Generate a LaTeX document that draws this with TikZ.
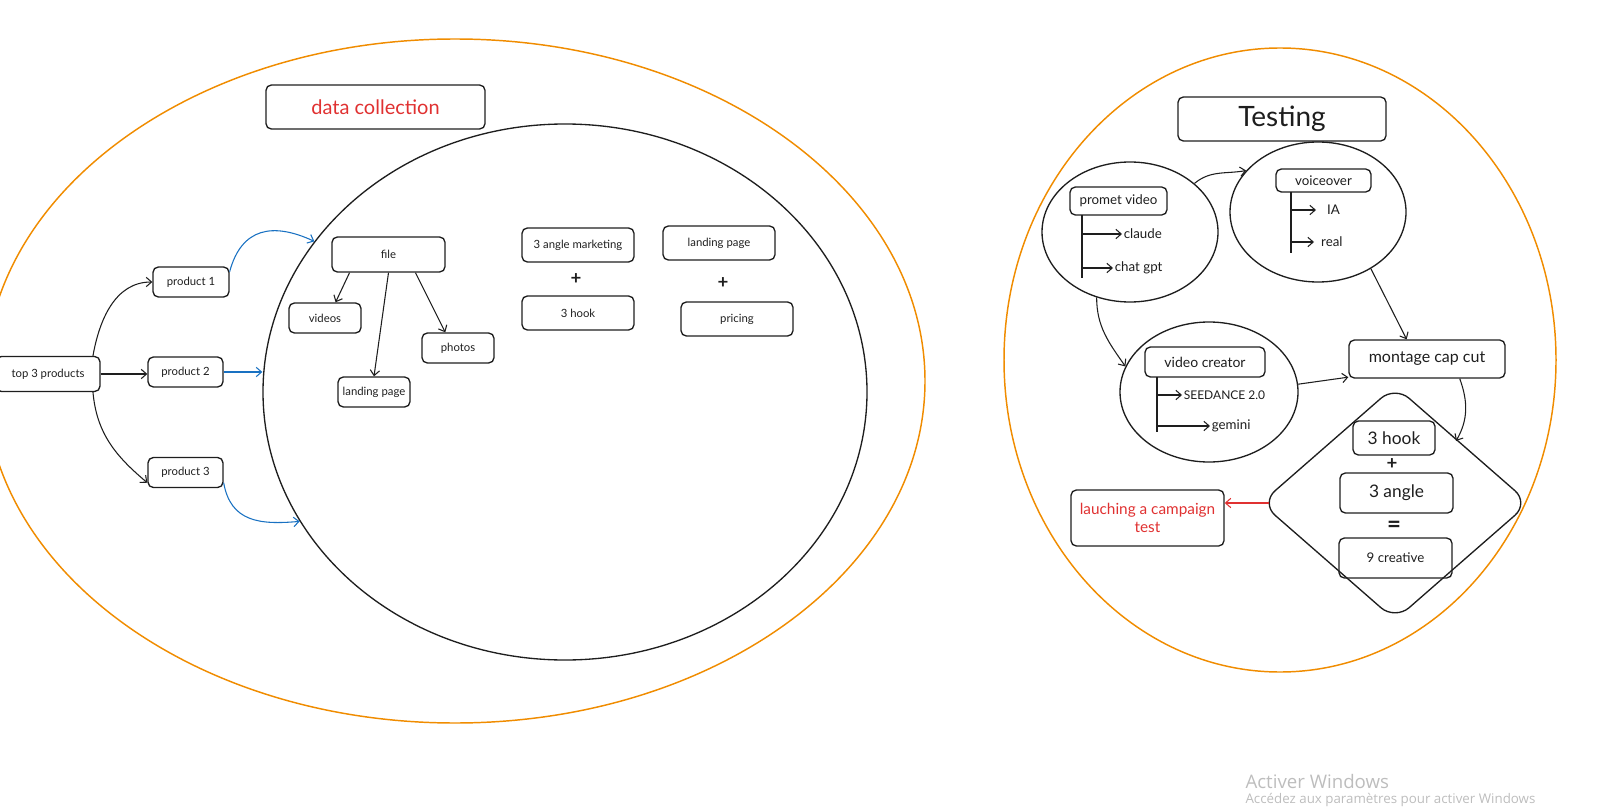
\documentclass[tikz,border=0pt]{standalone}
\usepackage{fontspec}
\setmainfont{Lato}
\newfontfamily\winfont{Open Sans}
\usetikzlibrary{arrows.meta,shapes.geometric}

\definecolor{ink}{HTML}{1E1E1E}
\definecolor{sketchorange}{HTML}{F08C00}
\definecolor{sketchblue}{HTML}{1971C2}
\definecolor{sketchred}{HTML}{E03131}
\definecolor{winmark}{HTML}{BDBDBD}

\tikzset{every picture/.style={line width=0.75pt}}
\tikzset{
  box/.style={draw=ink, line width=1pt, rounded corners=4pt, inner sep=1pt, align=center, text=ink},
  zone/.style={draw=ink, ellipse, line width=1pt, inner sep=0pt},
  frame/.style={draw=sketchorange, line width=1.1pt},
  link/.style={draw=ink, line width=0.8pt, -{Straight Barb[length=4pt,width=7pt]}},
  bluelink/.style={link, draw=sketchblue},
  redlink/.style={link, draw=sketchred},
  item/.style={inner sep=1pt, text=ink, anchor=west, font=\fontsize{10}{12}\selectfont},
  tiny/.style={font=\fontsize{8.5}{10}\selectfont},
  sign/.style={inner sep=0pt, text=ink, font=\bfseries\fontsize{14}{14}\selectfont},
}

\begin{document}
\begin{tikzpicture}[x=0.75pt,y=0.75pt,yscale=-1,xscale=1]
\useasboundingbox (0,0) rectangle (1598,809);

%Shape: Ellipse [data collection frame]
\draw[frame] (455,381) ellipse [x radius=352.5pt, y radius=256.5pt];
%Shape: Ellipse [testing frame]
\draw[frame] (1280,360) ellipse [x radius=207pt, y radius=234pt];

%Shape: Rectangle [products]
\node[box, tiny, minimum width=78pt, minimum height=26.25pt] (top3) at (48,374) {top 3 products};
\node[box, tiny, minimum width=57pt, minimum height=22.5pt] (prod1) at (191,282) {product 1};
\node[box, tiny, minimum width=56.25pt, minimum height=22.5pt] (prod2) at (185.5,372) {product 2};
\node[box, tiny, minimum width=56.25pt, minimum height=22.5pt] (prod3) at (185.5,472.5) {product 3};

%Shape: Rectangle [title]
\node[box, text=sketchred, font=\fontsize{15}{17}\selectfont, minimum width=164.25pt, minimum height=33pt] (dcoll) at (375.5,107) {data collection};

%Shape: Ellipse [collection zone]
\node[zone, minimum width=453pt, minimum height=402pt] (collect) at (565,392) {};

%Shape: Rectangle [files]
\node[box, tiny, minimum width=84.75pt, minimum height=26.25pt] (file) at (388.5,254.5) {file};
\node[box, tiny, minimum width=54pt, minimum height=22.5pt] (videos) at (325,318) {videos};
\node[box, tiny, minimum width=54pt, minimum height=22.5pt] (landL) at (374,392) {landing page};
\node[box, tiny, minimum width=54pt, minimum height=22.5pt] (photos) at (458,348) {photos};

%Shape: Rectangle [marketing]
\node[box, tiny, minimum width=84pt, minimum height=25.5pt] (angmk) at (578,245) {3 angle marketing};
\node[sign] (plusA) at (576,279) {+};
\node[box, tiny, minimum width=84pt, minimum height=25.5pt] (hook) at (578,313) {3 hook};
\node[box, tiny, minimum width=84pt, minimum height=25.5pt] (landR) at (719,243) {landing page};
\node[sign] (plusB) at (723,283) {+};
\node[box, tiny, minimum width=84pt, minimum height=25.5pt] (pricing) at (737,319) {pricing};

%Curve Lines
\draw[link] (top3.22) to[out=-80,in=180] (prod1.west);
\draw[link] (top3.east) -- (top3.east -| prod2.west);
\draw[link] (top3.-22) to[out=85,in=-140] (prod3.195);
\draw[bluelink] (prod1.15) to[out=-75,in=-155,looseness=1.3] (collect.149);
\draw[bluelink] (prod2.east) -- (prod2.east -| collect.west);
\draw[bluelink] (prod3.-15) to[out=80,in=175,looseness=1.2] (collect.206);

%Straight Lines
\draw[link] (file.205) -- (videos.56);
\draw[link] (file.south) -- (landL.north);
\draw[link] (file.-34) -- (photos.129);

%Shape: Rectangle [testing title]
\node[box, font=\fontsize{21}{24}\selectfont, minimum width=156pt, minimum height=33pt] (testing) at (1282,119) {Testing};

%Shape: Ellipse [promet video]
\node[zone, minimum width=132pt, minimum height=105pt] (promet) at (1130,232) {};
\node[box, font=\fontsize{10}{12}\selectfont, minimum width=72.75pt, minimum height=21pt] (pbox) at (1118.5,201) {promet video};
\coordinate (ptop) at (1082,215);
\coordinate (pend) at (1082,278);
\node[item] (claude) at (1122,234) {claude};
\node[item] (chatgpt) at (1113,268) {chat gpt};
\draw[line width=1pt, draw=ink] (ptop) -- (pend);
\draw[link] (ptop |- claude.west) -- (claude.west);
\draw[link] (ptop |- chatgpt.west) -- (chatgpt.west);

%Shape: Ellipse [voiceover]
\node[zone, minimum width=132pt, minimum height=105pt] (voice) at (1318,212) {};
\node[box, font=\fontsize{10}{12}\selectfont, minimum width=71.25pt, minimum height=17.25pt] (vbox) at (1323.5,180.5) {voiceover};
\coordinate (vtop) at (1291,192);
\coordinate (vend) at (1291,253);
\node[item, inner xsep=8pt] (ia) at (1316,210) {IA};
\node[item, inner xsep=5pt] (real) at (1314,242) {real};
\draw[line width=1pt, draw=ink] (vtop) -- (vend);
\draw[link] (vtop |- ia.west) -- (ia.west);
\draw[link] (vtop |- real.west) -- (real.west);

%Shape: Ellipse [video creator]
\node[zone, minimum width=133.5pt, minimum height=105pt] (creator) at (1209,392) {};
\node[box, font=\fontsize{10.5}{12}\selectfont, minimum width=90pt, minimum height=22.5pt] (cbox) at (1205,362) {video creator};
\coordinate (ctop) at (1157,377);
\coordinate (cend) at (1157,432);
\node[item, font=\fontsize{9}{11}\selectfont] (seed) at (1182,395) {SEEDANCE 2.0};
\node[item] (gemini) at (1210,426) {gemini};
\draw[line width=1pt, draw=ink] (ctop) -- (cend);
\draw[link] (ctop |- seed.west) -- (seed.west);
\draw[link] (ctop |- gemini.west) -- (gemini.west);

%Shape: Rectangle [montage]
\node[box, font=\fontsize{12}{14}\selectfont, minimum width=117pt, minimum height=28.5pt] (montage) at (1427,359) {montage cap cut};

%Shape: Diamond [creative mix]
\coordinate (mixN) at (1395,386);
\coordinate (mixE) at (1529,503);
\coordinate (mixS) at (1395,620);
\coordinate (mixW) at (1261,503);
\coordinate (mixNE) at (1456,441);
\coordinate (mixL) at (1269,503);
\draw[draw=ink, line width=1pt, rounded corners=14pt] (mixN) -- (mixE) -- (mixS) -- (mixW) -- cycle;
\node[box, font=\fontsize{13}{15}\selectfont, minimum width=61.5pt, minimum height=25.5pt] (hook3) at (1394,438) {3 hook};
\node[sign] (plusC) at (1392,464) {+};
\node[box, font=\fontsize{13}{15}\selectfont, minimum width=84.75pt, minimum height=30pt] (angle3) at (1396.5,493) {3 angle};
\node[sign, font=\bfseries\fontsize{18}{18}\selectfont] (equal) at (1394,527) {=};
\node[box, font=\fontsize{10}{12}\selectfont, minimum width=84.75pt, minimum height=30pt] (creative) at (1395.5,558) {9 creative};

%Shape: Rectangle [campaign]
\node[box, text=sketchred, font=\fontsize{11.5}{14}\selectfont, minimum width=114.75pt, minimum height=42pt] (launch) at (1147.5,518) {lauching a campaign\\test};

%Curve Lines
\draw[link] (promet.37) to[out=-40,in=170] (voice.150);
\draw[link] (promet.243) to[out=90,in=-125] (creator.163);
\draw[link] (voice.313) -- (montage.136);
\draw[link] (creator.5) -- (montage.193);
\draw[link] (montage.-31.5) to[out=70,in=-60] (mixNE);
\draw[redlink] (mixL) -- (mixL -| launch.east);

%Text [watermark]
\node[anchor=west, inner sep=0pt, text=winmark, font=\winfont\fontsize{14}{16}\selectfont] (winA) at (1245,781) {Activer Windows};
\node[anchor=west, inner sep=0pt, text=winmark, font=\winfont\fontsize{10}{12}\selectfont] (winB) at (1245,800) {Accédez aux paramètres pour activer Windows};

\end{tikzpicture}
\end{document}
